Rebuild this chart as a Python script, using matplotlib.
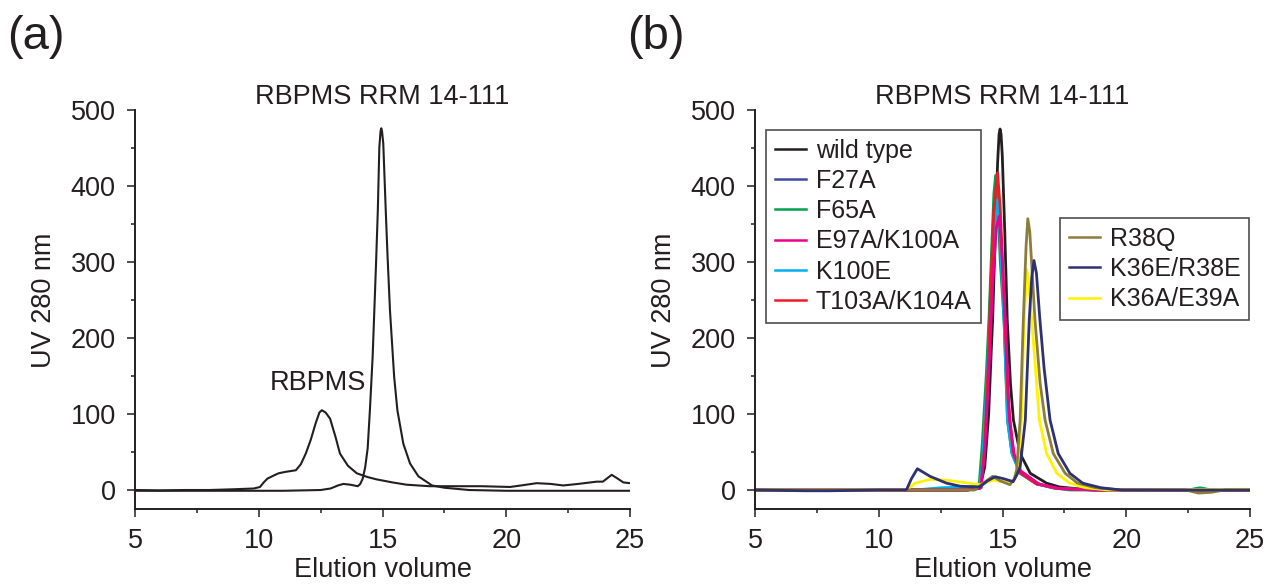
import matplotlib
matplotlib.use("Agg")
import matplotlib.pyplot as plt
from matplotlib.lines import Line2D
from matplotlib.ticker import MultipleLocator

plt.rcParams['font.family'] = ['Liberation Sans', 'DejaVu Sans']

INK = "#231f20"

# ---- panel (a): full length RBPMS vs RRM 14-111 ----
rbpms_x = [5, 6, 7, 8, 9, 9.8, 10.05, 10.2, 10.35, 10.6, 10.8, 11.1, 11.5, 11.7, 11.9,
           12.1, 12.3, 12.45, 12.55, 12.7, 12.88, 13.1, 13.28, 13.6, 13.96, 14.4, 14.76,
           15.4, 15.97, 16.9, 18, 19, 20.15, 20.6, 21.23, 21.8, 22.3, 22.9, 23.65, 23.9,
           24.26, 24.5, 24.73, 25]
rbpms_y = [0, -0.5, 0, 0, 1, 2, 4, 10, 15, 19, 22, 24, 26, 34, 48,
           66, 88, 102, 105, 102, 94, 70, 48, 32, 22, 17, 14,
           10, 7, 5, 5, 5, 4, 6, 9, 8, 6, 8, 11, 11,
           20, 15, 10, 9]

rrm_x = [5, 7, 9, 11, 12.5, 12.9, 13.2, 13.42, 13.7, 14.0, 14.1, 14.2, 14.3, 14.4, 14.49,
         14.6, 14.67, 14.74, 14.81, 14.87, 14.92, 14.95, 14.98, 15.03, 15.13, 15.2, 15.3,
         15.47, 15.6, 15.84, 16.11, 16.45, 17.0, 17.5, 18.5, 20, 22, 25]
rrm_y = [-1, -1, -1, -1, 0, 2, 6, 8, 7, 5, 8, 15, 30, 55, 105,
         175, 237, 300, 368, 450, 472, 476, 472, 456, 368, 310, 237,
         149, 105, 61, 35, 18, 6, 3, 0, -1, -1, -1]

# ---- panel (b): RRM 14-111 mutants ----
wt_x = [5, 10, 13.56, 14.08, 14.28, 14.44, 14.54, 14.6, 14.7, 14.8, 14.86, 14.9, 14.94,
        14.99, 15.09, 15.19, 15.32, 15.44, 15.71, 16.12, 16.78, 17.3, 18.24, 19.8, 25]
wt_y = [0, 0, 0, 3, 30, 100, 180, 224, 330, 430, 468, 475, 468,
        440, 340, 224, 140, 92, 48, 22, 9, 4, 1, 0, 0]

f27a_x = [5, 10, 13.56, 14.08, 14.23, 14.39, 14.54, 14.7, 14.8, 14.91, 15.06, 15.22, 15.43,
          15.74, 16.37, 17.2, 18.76, 25]
f27a_y = [0, 0, 0, 2, 50, 160, 280, 375, 395, 350, 230, 100, 48,
          22, 8, 2, 0, 0]

f65a_x = [5, 10, 13.56, 14.02, 14.07, 14.18, 14.34, 14.45, 14.54, 14.65, 14.72, 14.8, 14.91,
          15.06, 15.2, 15.38, 15.71, 16.37, 16.99, 17.72, 22.5, 22.98, 23.44, 25]
f65a_y = [0, 0, 0, 2, 13, 60, 150, 224, 300, 390, 414, 380, 300,
          224, 92, 48, 22, 9, 3, 0, 0, 3, 0, 0]

e97a_x = [5, 10, 13.56, 14.13, 14.28, 14.44, 14.6, 14.75, 14.86, 14.96, 15.12, 15.28, 15.48,
          15.74, 16.47, 17.3, 18.76, 25]
e97a_y = [0, 0, 0, 3, 50, 150, 270, 345, 360, 320, 220, 92, 45,
          25, 8, 2, 0, 0]

k100e_x = [5, 10, 11.47, 12.52, 13.56, 13.97, 14.08, 14.18, 14.34, 14.49, 14.65, 14.8, 14.91,
           15.06, 15.2, 15.38, 15.71, 16.37, 17.2, 18.76, 25]
k100e_y = [0, 0, 0, 3, 4, 5, 8, 30, 120, 220, 330, 382, 330,
           224, 92, 48, 22, 8, 2, 0, 0]

t103a_x = [5, 10, 13.56, 14.13, 14.28, 14.44, 14.54, 14.65, 14.8, 14.91, 15.06, 15.22, 15.43,
           15.74, 16.37, 17.2, 18.76, 25]
t103a_y = [0, 0, 0, 3, 60, 180, 280, 370, 417, 370, 250, 120, 50,
           22, 8, 2, 0, 0]

r38q_x = [5, 10, 13.87, 14.18, 14.6, 14.91, 15.3, 15.48, 15.57, 15.71, 15.84, 15.95, 16.02,
          16.1, 16.31, 16.52, 16.72, 17.05, 17.53, 18.03, 18.76, 19.8, 22.4, 22.92, 23.44,
          23.96, 25]
r38q_y = [0, 0, 0, 8, 18, 12, 7, 15, 26, 92, 224, 320, 357,
          340, 224, 140, 92, 48, 22, 9, 3, 0, 0, -4, -3,
          0, 0]

k36e_x = [5, 7, 8, 10, 11.06, 11.13, 11.32, 11.56, 12.07, 12.74, 13.29, 14.08, 14.39, 14.7,
          15.03, 15.43, 15.58, 15.71, 15.92, 16.08, 16.18, 16.27, 16.37, 16.51, 16.68,
          16.92, 17.25, 17.72, 18.24, 18.97, 19.8, 25]
k36e_y = [0, -1, -1, 0, 0, 1, 15, 28, 18, 9, 5, 4, 12, 17.5,
          15, 11, 20, 30, 92, 224, 280, 302, 285, 224, 160,
          92, 48, 22, 9, 3, 0, 0]

k36a_x = [5, 10, 11.06, 11.16, 11.47, 12.07, 12.74, 13.42, 14.08, 14.62, 15.17, 15.43, 15.48,
          15.63, 15.76, 15.87, 15.98, 16.07, 16.18, 16.49, 16.78, 17.19, 17.72, 18.34,
          19.28, 25]
k36a_y = [0, 0, 0, 1, 9, 14, 13, 10, 7, 13, 10, 12, 15,
          35, 92, 224, 290, 270, 224, 92, 48, 22, 9, 3,
          0, 1]

group1 = ["wild type", "F27A", "F65A", "E97A/K100A", "K100E", "T103A/K104A"]
group2 = ["R38Q", "K36E/R38E", "K36A/E39A"]
colors = {"wild type": INK, "F27A": "#3f4b9b", "F65A": "#00a14b",
          "E97A/K100A": "#ec008c", "K100E": "#00aeef", "T103A/K104A": "#ed1c24",
          "R38Q": "#8c7d3a", "K36E/R38E": "#2e3172", "K36A/E39A": "#fff200"}
series = {"wild type": (wt_x, wt_y), "F27A": (f27a_x, f27a_y), "F65A": (f65a_x, f65a_y),
          "E97A/K100A": (e97a_x, e97a_y), "K100E": (k100e_x, k100e_y),
          "T103A/K104A": (t103a_x, t103a_y), "R38Q": (r38q_x, r38q_y),
          "K36E/R38E": (k36e_x, k36e_y), "K36A/E39A": (k36a_x, k36a_y)}
draw_order = ["wild type", "F27A", "F65A", "K100E", "T103A/K104A", "E97A/K100A",
              "K36A/E39A", "R38Q", "K36E/R38E"]

fig = plt.figure(figsize=(12.7, 5.84), dpi=100)
ax_a = fig.add_axes([0.1063, 0.1284, 0.3898, 0.6832])
ax_b = fig.add_axes([0.5945, 0.1284, 0.3898, 0.6832])


def style_axes(ax):
    ax.set_xlim(5, 25)
    ax.set_ylim(-25, 500)
    ax.spines['top'].set_visible(False)
    ax.spines['right'].set_visible(False)
    for s in ['left', 'bottom']:
        ax.spines[s].set_linewidth(1.4)
        ax.spines[s].set_color(INK)
    ax.xaxis.set_major_locator(MultipleLocator(5))
    ax.xaxis.set_minor_locator(MultipleLocator(2.5))
    ax.yaxis.set_major_locator(MultipleLocator(100))
    ax.yaxis.set_minor_locator(MultipleLocator(50))
    ax.tick_params(which='major', direction='out', length=5.8, width=1.1, colors=INK,
                   labelsize=19.5, pad=8)
    ax.tick_params(which='minor', direction='out', length=3.2, width=1.1, colors=INK)
    ax.set_yticks([0, 100, 200, 300, 400, 500])
    ax.set_xlabel("Elution volume", fontsize=19.5, color=INK, labelpad=2)
    ax.set_ylabel("UV 280 nm", fontsize=19.5, color=INK)
    ax.yaxis.set_label_coords(-0.158, 0.524)
    ax.set_title("RBPMS RRM 14-111", fontsize=19.5, color=INK, pad=4)


style_axes(ax_a)
ax_a.plot(rbpms_x, rbpms_y, color=INK, lw=1.5)
ax_a.plot(rrm_x, rrm_y, color=INK, lw=1.5)
ax_a.text(10.45, 141, "RBPMS", fontsize=19.5, color=INK, va='center', ha='left')

style_axes(ax_b)
for name in draw_order:
    xs, ys = series[name]
    ax_b.plot(xs, ys, color=colors[name], lw=2.0)

h1 = [Line2D([], [], color=colors[n], lw=1.8) for n in group1]
h2 = [Line2D([], [], color=colors[n], lw=1.8) for n in group2]
leg_kw = dict(fontsize=18, frameon=True, fancybox=False, handlelength=1.25,
              handletextpad=0.4, borderpad=0.35, labelspacing=0.25, borderaxespad=0)
leg1 = ax_b.legend(h1, group1, loc='upper left', bbox_to_anchor=(0.022, 0.95), **leg_kw)
ax_b.add_artist(leg1)
leg2 = ax_b.legend(h2, group2, loc='upper left', bbox_to_anchor=(0.616, 0.729), **leg_kw)
for leg in (leg1, leg2):
    leg.get_frame().set_edgecolor(INK)
    leg.get_frame().set_linewidth(1.2)
    for t in leg.get_texts():
        t.set_color(INK)

fig.text(0.006, 0.937, "(a)", fontsize=34, color=INK, va='center', ha='left')
fig.text(0.494, 0.937, "(b)", fontsize=34, color=INK, va='center', ha='left')

fig.savefig("out.png", dpi=100)
